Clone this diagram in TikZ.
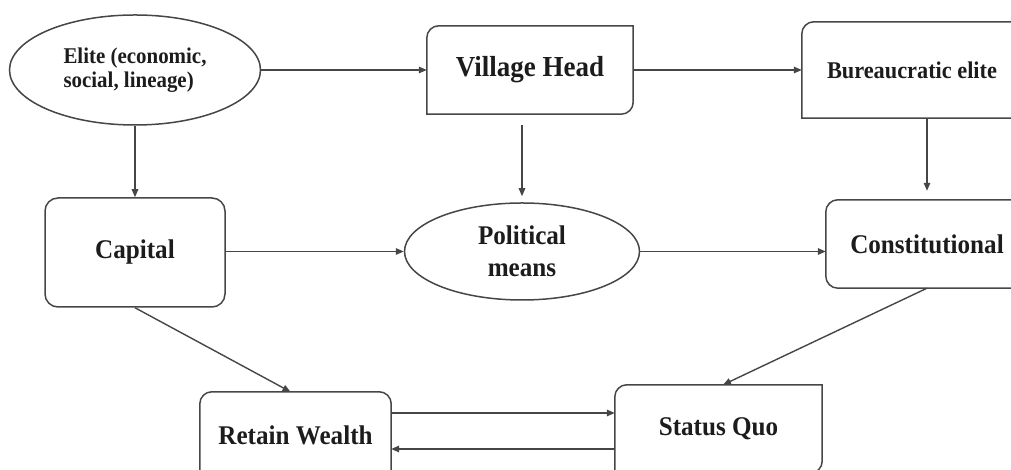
\documentclass[tikz,border=0pt]{standalone}
\usepackage{fontspec}
\setmainfont[FakeStretch=0.93]{Liberation Serif}
\usetikzlibrary{shapes.geometric,arrows.meta,calc}
\definecolor{edgec}{RGB}{70,70,70}
\definecolor{txtc}{RGB}{28,28,28}
\begin{document}
\begin{tikzpicture}[x=1pt,y=1pt,
  bd/.style={draw=edgec,line width=1.5pt},
  txt/.style={text=txtc,font=\bfseries\fontsize{27}{32}\selectfont,align=center,inner sep=0pt},
  ell/.style={ellipse,bd,txt},
  conn/.style={draw=edgec,line width=1.4pt,-{Triangle[length=8pt,width=6.5pt]}}
]
\useasboundingbox (0,0) rectangle (1011,470);
% nodes (y = 470 - pixel row)
\node[ell,minimum width=251pt,minimum height=110pt,align=left,
      font=\bfseries\fontsize{22.5}{24}\selectfont] (el) at (135,400)
      {Elite (economic,\\social, lineage)};
\node[txt,minimum width=206pt,minimum height=88pt,
      font=\bfseries\fontsize{29}{32}\selectfont] (vh) at (530,400) {Village Head};
\node[txt,minimum width=220pt,minimum height=96pt,
      font=\bfseries\fontsize{24}{28}\selectfont] (bu) at (912,400) {Bureaucratic elite};
\node[txt,bd,rounded corners=13pt,minimum width=180pt,minimum height=109pt] (ca) at (135,217.5) {Capital};
\node[ell,minimum width=235pt,minimum height=97pt] (po) at (522,218.5) {Political\\means};
\node[txt,minimum width=202pt,minimum height=88pt] (co) at (927,226) {Constitutional};
\node[txt,minimum width=191pt,minimum height=86pt] (rw) at (295.5,35) {Retain Wealth};
\node[txt,minimum width=207pt,minimum height=88pt] (sq) at (718.5,41) {Status Quo};
% box outlines with partly rounded corners
\draw[bd] ([xshift=12pt]vh.north west) -- (vh.north east) -- ([yshift=12pt]vh.south east)
  arc[start angle=0,end angle=-90,radius=12pt] -- (vh.south west) -- ([yshift=-12pt]vh.north west)
  arc[start angle=180,end angle=90,radius=12pt] -- cycle;
\draw[bd] ([xshift=12pt]bu.north west) -- (bu.north east) -- (bu.south east) -- (bu.south west)
  -- ([yshift=-12pt]bu.north west) arc[start angle=180,end angle=90,radius=12pt] -- cycle;
\draw[bd] ([xshift=12pt]co.north west) -- (co.north east) -- (co.south east) -- ([xshift=12pt]co.south west)
  arc[start angle=270,end angle=180,radius=12pt] -- ([yshift=-12pt]co.north west)
  arc[start angle=180,end angle=90,radius=12pt] -- cycle;
\draw[bd] ([yshift=-20pt]rw.south west) -- ([yshift=-12pt]rw.north west)
  arc[start angle=180,end angle=90,radius=12pt] -- ([xshift=-12pt]rw.north east)
  arc[start angle=90,end angle=0,radius=12pt] -- ([yshift=-20pt]rw.south east);
\draw[bd] ([xshift=12pt]sq.north west) -- (sq.north east) -- ([yshift=12pt]sq.south east)
  arc[start angle=0,end angle=-90,radius=12pt] -- (sq.south west) -- ([yshift=-12pt]sq.north west)
  arc[start angle=180,end angle=90,radius=12pt] -- cycle;
% connectors
\draw[conn] (el.east) -- (vh.west);
\draw[conn] (vh.east) -- (bu.west);
\draw[conn] (el.south) -- (ca.north);
\draw[conn,shorten <=11pt,shorten >=6pt] (po.north |- vh.south) -- (po.north);
\draw[conn,shorten >=9pt] (co.north |- bu.south) -- (co.north);
\draw[conn] (ca.east |- po.west) -- (po.west);
\draw[conn] (po.east) -- (po.east -| co.west);
\draw[conn] (ca.south) -- ([xshift=-5pt]rw.north);
\draw[conn] (co.south) -- ([xshift=4.5pt]sq.north);
\draw[conn] ([yshift=22pt]rw.east) -- ([yshift=22pt]rw.east -| sq.west);
\draw[conn] ([yshift=-14pt]rw.east -| sq.west) -- ([yshift=-14pt]rw.east);
\end{tikzpicture}
\end{document}
